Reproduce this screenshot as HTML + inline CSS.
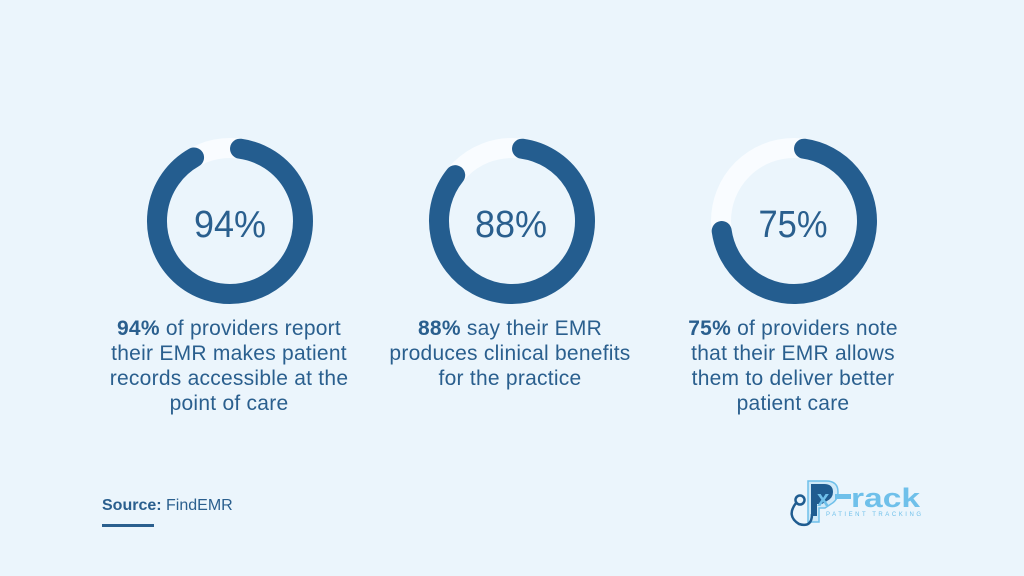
<!DOCTYPE html>
<html>
<head>
<meta charset="utf-8">
<style>
  html,body{margin:0;padding:0;background:#ebf5fc;}
  svg{display:block;}
  text{font-family:"Liberation Sans",Arial,sans-serif;}
</style>
</head>
<body>
<svg width="1024" height="576" viewBox="0 0 1024 576" xmlns="http://www.w3.org/2000/svg">
  <rect x="0" y="0" width="1024" height="576" fill="#ebf5fc"/>

  <!-- Donut 1: 94% -->
  <circle cx="230" cy="221" r="73" fill="none" stroke="#f9fcff" stroke-width="20"/>
  <path d="M240.03,148.69 A73,73 0 1 1 194.05,157.46" fill="none" stroke="#245d8f" stroke-width="20" stroke-linecap="round"/>
  <text x="230" y="237" font-size="38" fill="#2a5f8e" text-anchor="middle" textLength="72" lengthAdjust="spacingAndGlyphs">94%</text>

  <!-- Donut 2: 88% -->
  <circle cx="512" cy="221" r="73" fill="none" stroke="#f9fcff" stroke-width="20"/>
  <path d="M522.03,148.69 A73,73 0 1 1 455.19,175.16" fill="none" stroke="#245d8f" stroke-width="20" stroke-linecap="round"/>
  <text x="511" y="237" font-size="38" fill="#2a5f8e" text-anchor="middle" textLength="72" lengthAdjust="spacingAndGlyphs">88%</text>

  <!-- Donut 3: 75% -->
  <circle cx="794" cy="221" r="73" fill="none" stroke="#f9fcff" stroke-width="20"/>
  <path d="M804.03,148.69 A73,73 0 1 1 721.69,231.03" fill="none" stroke="#245d8f" stroke-width="20" stroke-linecap="round"/>
  <text x="793" y="237" font-size="38" fill="#2a5f8e" text-anchor="middle" textLength="69" lengthAdjust="spacingAndGlyphs">75%</text>

  <!-- Descriptions -->
  <g font-size="21" fill="#2a5f8e" text-anchor="middle" letter-spacing="0.25">
    <text x="229" y="335"><tspan font-weight="bold">94%</tspan> of providers report</text>
    <text x="229" y="360">their EMR makes patient</text>
    <text x="229" y="385">records accessible at the</text>
    <text x="229" y="410">point of care</text>

    <text x="510" y="335"><tspan font-weight="bold">88%</tspan> say their EMR</text>
    <text x="510" y="360">produces clinical benefits</text>
    <text x="510" y="385">for the practice</text>

    <text x="793" y="335"><tspan font-weight="bold">75%</tspan> of providers note</text>
    <text x="793" y="360">that their EMR allows</text>
    <text x="793" y="385">them to deliver better</text>
    <text x="793" y="410">patient care</text>
  </g>

  <!-- Source -->
  <text x="102" y="510" font-size="16" fill="#2a5f8e"><tspan font-weight="bold">Source:</tspan> FindEMR</text>
  <rect x="102" y="524" width="52" height="3" fill="#2a5f8e"/>

  <!-- Logo -->
  <g>
    <path d="M808,481 h18 q12,0 12,11 q0,8 -7,12 l-6,4 h-6 v14 h-11 z" fill="#cfe9f8" stroke="#6fc0ea" stroke-width="1.5"/>
    <path d="M811,484 h13 q9,0 9,8 q0,6 -6,9 l-5,3 h-5 v12 h-6 z" fill="#1f5c90"/>
    <circle cx="800" cy="500" r="4.5" fill="#eaf5fc" stroke="#1f5c90" stroke-width="2.5"/>
    <path d="M796,503 Q786,516 799,524 Q812,528 812,514" fill="none" stroke="#1f5c90" stroke-width="2.5"/>
    <text x="817" y="506" font-size="22" font-weight="bold" fill="#6fc0ea">x</text>
    <rect x="835" y="494" width="16" height="5" fill="#6fc0ea"/>
    <text x="851" y="507" font-size="27" font-weight="bold" fill="#6fc0ea" textLength="69" lengthAdjust="spacingAndGlyphs">rack</text>
    <text x="826" y="516" font-size="6" fill="#6fc0ea" textLength="95" lengthAdjust="spacing">PATIENT TRACKING</text>
  </g>
</svg>
</body>
</html>
